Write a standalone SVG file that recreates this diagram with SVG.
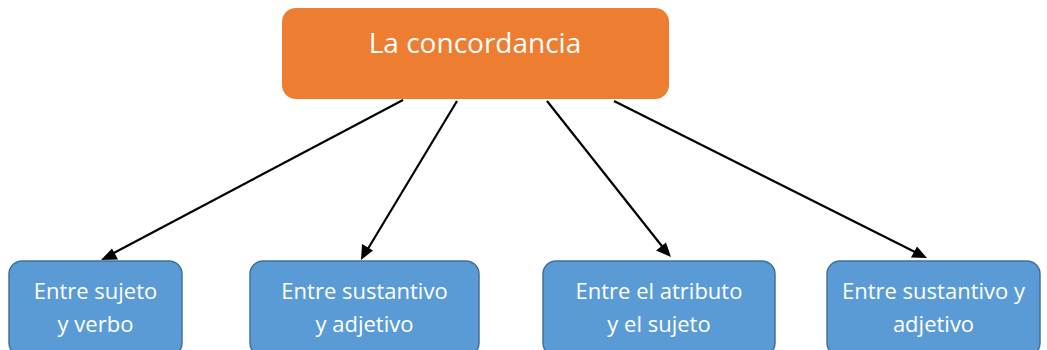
<svg xmlns="http://www.w3.org/2000/svg" width="1047" height="350" viewBox="0 0 1047 350">
<style>
.top{fill:#ed7d31;}
.box{fill:#5b9bd5;stroke:#41719c;stroke-width:1.5;}
.t{font-family:"Open Sans","Noto Sans",sans-serif;fill:#fff;text-anchor:middle;}
.tt{font-size:28px;}
.bt{font-size:22px;}
.c{stroke:#000;stroke-width:2.2;fill:none;}
</style>
<rect width="1047" height="350" fill="#fff"/>
<g id="connectors">
<line class="c" x1="403" y1="100" x2="110" y2="255"/>
<line class="c" x1="457" y1="101" x2="366" y2="252"/>
<line class="c" x1="547" y1="101" x2="665" y2="250"/>
<line class="c" x1="614" y1="101" x2="919" y2="254"/>
<polygon points="101,260 112,248.5 118,259.5" fill="#000"/>
<polygon points="361,260 362,244 373,250.5" fill="#000"/>
<polygon points="671,257 656,250.5 666,242.5" fill="#000"/>
<polygon points="927,258 911,257.5 917,246.5" fill="#000"/>
</g>
<g id="root">
<rect class="top" x="282" y="8" width="387" height="91" rx="14"/>
<text class="t tt" x="475" y="53">La concordancia</text>
</g>
<g id="n1">
<rect class="box" x="9" y="261" width="173" height="95" rx="13"/>
<text class="t bt" x="95.5" y="299">Entre sujeto</text>
<text class="t bt" x="95.5" y="332">y verbo</text>
</g>
<g id="n2">
<rect class="box" x="250" y="261" width="229" height="95" rx="13"/>
<text class="t bt" x="364.5" y="299">Entre sustantivo</text>
<text class="t bt" x="364.5" y="332">y adjetivo</text>
</g>
<g id="n3">
<rect class="box" x="543" y="261" width="232" height="95" rx="13"/>
<text class="t bt" x="659" y="299">Entre el atributo</text>
<text class="t bt" x="659" y="332">y el sujeto</text>
</g>
<g id="n4">
<rect class="box" x="827" y="261" width="213" height="95" rx="13"/>
<text class="t bt" x="933.5" y="299">Entre sustantivo y</text>
<text class="t bt" x="933.5" y="332">adjetivo</text>
</g>
</svg>
